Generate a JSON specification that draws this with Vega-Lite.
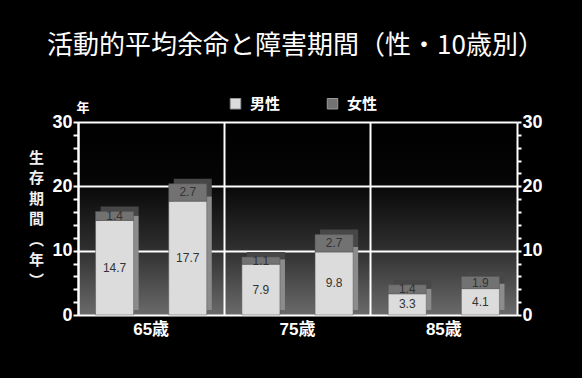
{
  "$schema": "https://vega.github.io/schema/vega-lite/v6.json",
  "width": 439,
  "height": 193,
  "autosize": {"type": "none"},
  "padding": {"left": 78, "top": 122, "right": 65, "bottom": 63},
  "background": "#000000",
  "title": {
    "text": "活動的平均余命と障害期間（性・10歳別）",
    "color": "#ffffff",
    "fontSize": 26,
    "font": "Noto Sans CJK JP",
    "fontWeight": "normal",
    "anchor": "middle",
    "offset": 37,
    "dx": -2
  },
  "data": {
    "values": [
      {"age": "65歳", "bar": "a", "kind": "男性", "ord": 1, "value": 14.7},
      {"age": "65歳", "bar": "a", "kind": "女性", "ord": 2, "value": 1.4},
      {"age": "65歳", "bar": "b", "kind": "男性", "ord": 1, "value": 17.7},
      {"age": "65歳", "bar": "b", "kind": "女性", "ord": 2, "value": 2.7},
      {"age": "75歳", "bar": "a", "kind": "男性", "ord": 1, "value": 7.9},
      {"age": "75歳", "bar": "a", "kind": "女性", "ord": 2, "value": 1.1},
      {"age": "75歳", "bar": "b", "kind": "男性", "ord": 1, "value": 9.8},
      {"age": "75歳", "bar": "b", "kind": "女性", "ord": 2, "value": 2.7},
      {"age": "85歳", "bar": "a", "kind": "男性", "ord": 1, "value": 3.3},
      {"age": "85歳", "bar": "a", "kind": "女性", "ord": 2, "value": 1.4},
      {"age": "85歳", "bar": "b", "kind": "男性", "ord": 1, "value": 4.1},
      {"age": "85歳", "bar": "b", "kind": "女性", "ord": 2, "value": 1.9}
    ]
  },
  "config": {
    "view": {
      "stroke": null,
      "fill": {
        "gradient": "linear",
        "x1": 0, "y1": 0, "x2": 0, "y2": 1,
        "stops": [
          {"offset": 0, "color": "#000000"},
          {"offset": 0.3, "color": "#050505"},
          {"offset": 0.65, "color": "#2e2e2e"},
          {"offset": 1, "color": "#6a6a6a"}
        ]
      }
    }
  },
  "encoding": {
    "x": {
      "field": "age",
      "type": "nominal",
      "title": "年",
      "scale": {"paddingInner": 0, "paddingOuter": 0},
      "axis": {
        "labelAngle": 0,
        "labelColor": "#ffffff",
        "labelFont": "Liberation Sans, Noto Sans CJK JP",
        "labelFontSize": 17,
        "labelFontWeight": "bold",
        "labelPadding": 6,
        "ticks": false,
        "domainColor": "#ffffff",
        "domainWidth": 2,
        "grid": true,
        "bandPosition": 0,
        "gridColor": "#ffffff",
        "gridWidth": 2,
        "gridOpacity": 1,
        "titleColor": "#ffffff",
        "titleFont": "Noto Sans CJK JP",
        "titleFontSize": 13,
        "titleFontWeight": "bold",
        "titleAngle": 0,
        "titleAlign": "left",
        "titleBaseline": "middle",
        "titleX": -2,
        "titleY": -208
      }
    }
  },
  "layer": [
    {
      "mark": {"type": "bar", "yOffset": -5, "y2Offset": -5},
      "encoding": {
        "xOffset": {
          "field": "bar",
          "type": "nominal",
          "scale": {"paddingInner": 0.48, "paddingOuter": 0.24, "align": 0.643}
        },
        "y": {
          "field": "value",
          "type": "quantitative",
          "stack": "zero",
          "axis": null
        },
        "color": {
          "condition": {"test": "datum.kind == '男性'", "value": "#8c8c8c"},
          "value": "#474747"
        },
        "detail": {"field": "kind"},
        "order": {"field": "ord", "type": "quantitative"}
      }
    },
    {
      "layer": [
        {
          "mark": {"type": "bar", "stroke": "#555555", "strokeWidth": 0.5},
          "encoding": {
            "y": {
              "field": "value",
              "type": "quantitative",
              "stack": "zero",
              "scale": {"domain": [0, 30], "nice": false},
              "title": ["生", "存", "期", "間", "︵", "年", "︶"],
              "axis": {
                "orient": "left",
                "values": [0, 2, 4, 6, 8, 10, 12, 14, 16, 18, 20, 22, 24, 26, 28, 30],
                "labelExpr": "datum.value % 10 == 0 ? datum.label : ''",
                "labelColor": "#ffffff",
                "labelFont": "Liberation Sans",
                "labelFontSize": 18,
                "labelFontWeight": "bold",
                "labelPadding": 1,
                "tickColor": "#ffffff",
                "tickSize": 5,
                "tickWidth": 2,
                "domainColor": "#ffffff",
                "domainWidth": 2,
                "grid": true,
                "gridColor": "#ffffff",
                "gridWidth": 2,
                "gridOpacity": {"condition": {"test": "datum.value % 10 == 0 && datum.value > 0", "value": 1}, "value": 0},
                "titleColor": "#f0f0f0",
                "titleFont": "Noto Sans CJK JP",
                "titleFontSize": 15,
                "titleFontWeight": "bold",
                "titleAngle": 0,
                "titleAlign": "center",
                "titleBaseline": "top",
                "titleLineHeight": 20.5,
                "titleX": -42,
                "titleY": 28
              }
            },
            "color": {
              "field": "kind",
              "type": "nominal",
              "scale": {"domain": ["男性", "女性"], "range": ["#dcdcdc", "#727272"]},
              "legend": {
                "title": null,
                "orient": "none",
                "legendX": 150,
                "legendY": -26,
                "direction": "horizontal",
                "symbolType": "square",
                "symbolSize": 110,
                "symbolStrokeColor": "#999999",
                "symbolStrokeWidth": 1,
                "labelColor": "#ffffff",
                "labelFont": "Noto Sans CJK JP",
                "labelFontSize": 15,
                "labelFontWeight": "bold",
                "labelOffset": 7,
                "columnPadding": 44
              }
            },
            "order": {"field": "ord", "type": "quantitative"}
          }
        },
        {
          "mark": {"type": "text", "color": "#333333", "font": "Liberation Sans", "fontSize": 12},
          "encoding": {
            "y": {
              "field": "value",
              "type": "quantitative",
              "stack": "zero",
              "bandPosition": 0.5,
              "title": null,
              "axis": {
                "orient": "right",
                "values": [0, 2, 4, 6, 8, 10, 12, 14, 16, 18, 20, 22, 24, 26, 28, 30],
                "labelExpr": "datum.value % 10 == 0 ? datum.label : ''",
                "labelColor": "#ffffff",
                "labelFont": "Liberation Sans",
                "labelFontSize": 18,
                "labelFontWeight": "bold",
                "labelPadding": 1,
                "tickColor": "#ffffff",
                "tickSize": 4,
                "tickWidth": 2,
                "domainColor": "#ffffff",
                "domainWidth": 2,
                "grid": false
              }
            },
            "text": {"field": "value", "type": "quantitative", "format": ".1f"},
            "detail": {"field": "kind"},
            "order": {"field": "ord", "type": "quantitative"}
          }
        }
      ],
      "encoding": {
        "xOffset": {
          "field": "bar",
          "type": "nominal",
          "scale": {"paddingInner": 0.48, "paddingOuter": 0.24}
        }
      },
      "resolve": {"axis": {"y": "independent"}}
    }
  ],
  "resolve": {"scale": {"xOffset": "independent"}, "axis": {"y": "independent"}}
}
